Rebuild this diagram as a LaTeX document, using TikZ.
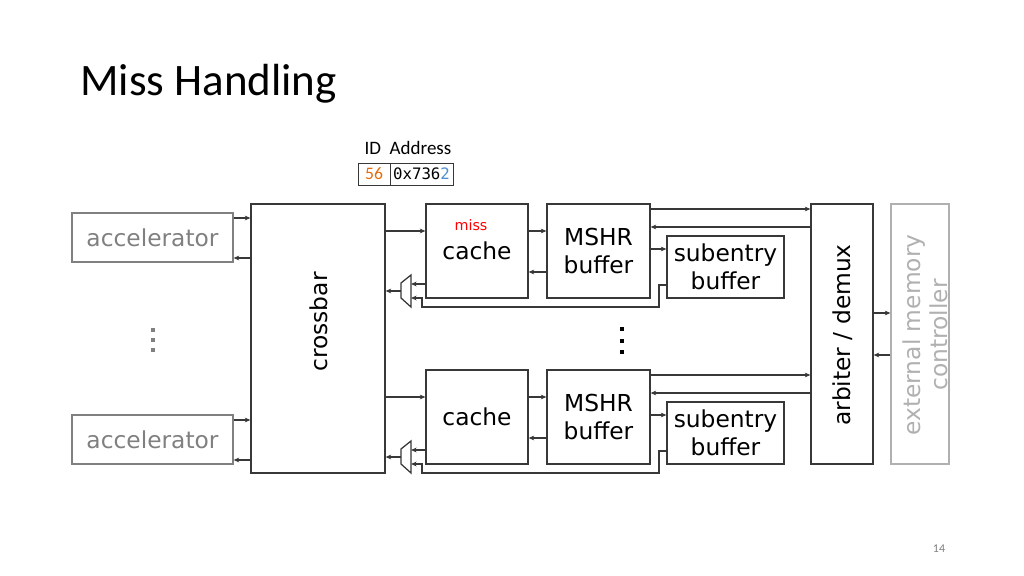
\documentclass[tikz,border=0pt]{standalone}
\usepackage{fontspec}
\setmainfont{DejaVu Sans}
\newfontfamily\titlefont{Carlito}
\newfontfamily\codefont{DejaVu Sans Mono}
\usetikzlibrary{arrows.meta}
\definecolor{linegray}{HTML}{383838}
\definecolor{accgray}{HTML}{808080}
\definecolor{emcgray}{HTML}{B0B0B0}
\definecolor{idorange}{HTML}{E36C0A}
\definecolor{idblue}{HTML}{4F8FD0}
\begin{document}
\begin{tikzpicture}[x=0.025cm,y=-0.025cm,
    box/.style={draw=linegray, line width=0.9pt, inner sep=0pt},
    lbl/.style={font=\fontsize{16.6}{19.5}\selectfont, align=center},
    arr/.style={draw=linegray, line width=0.75pt, -{Stealth[length=4pt,width=3.4pt]}}]
    \useasboundingbox (0,0) rectangle (1024,576);

    % Title and page number
    \node[anchor=base west, inner sep=0pt, font=\titlefont\fontsize{32}{38}\selectfont] (title) at (80,96) {Miss Handling};
    \node[font=\titlefont\fontsize{8.5}{10}\selectfont, text=accgray] (page) at (939,549) {14};

    % Request fields
    \node[font=\titlefont\fontsize{13.5}{16}\selectfont] (idhead) at (408,148) {ID\ \ Address};
    \node[draw=linegray, line width=0.7pt, minimum width=0.8cm, minimum height=0.55cm, inner sep=0pt,
        font=\titlefont\fontsize{12.5}{14}\selectfont, text=idorange] (idcell) at (374,174) {56};
    \node[draw=linegray, line width=0.7pt, minimum width=1.575cm, minimum height=0.55cm, inner sep=0pt,
        font=\codefont\fontsize{11.2}{14}\selectfont] (addrcell) at (421.5,174) {0x736\textcolor{idblue}{2}};

    % Accelerators and crossbar
    \node[box, minimum width=3.35cm, minimum height=6.725cm] (xbar) at (318,338.5) {};
    \node[lbl, rotate=90] (xbartext) at (319,322) {crossbar};
    \foreach \a/\dy in {1/0,2/202} {
        \node[box, draw=accgray, text=accgray, lbl, minimum width=4.025cm, minimum height=1.225cm] (acc\a) at (152.5,237.5+\dy) {accelerator};
        \draw[arr] (acc\a.east |- 0,218+\dy) -- (xbar.west |- 0,218+\dy);
        \draw[arr] (xbar.west |- 0,258+\dy) -- (acc\a.east |- 0,258+\dy);
    }
    \foreach \y in {330,340,350}
        \fill[accgray] (151,\y-2) rectangle (155,\y+2);

    % Arbiter and memory controller
    \node[box, minimum width=1.55cm, minimum height=6.5cm] (arb) at (842,334) {};
    \node[lbl, rotate=90] (arbtext) at (843,335) {arbiter / demux};
    \node[box, draw=emcgray, minimum width=1.45cm, minimum height=6.5cm] (emc) at (920,334) {};
    \node[lbl, rotate=90, text=emcgray] (emctext) at (925,335) {external memory\\controller};
    \draw[arr] (arb.east |- 0,313) -- (emc.west |- 0,313);
    \draw[arr] (emc.west |- 0,355) -- (arb.east |- 0,355);

    % Cache rows
    \foreach \r/\dy in {1/0,2/166} {
        \node[box, lbl, minimum width=2.55cm, minimum height=2.35cm] (cache\r) at (477,251+\dy) {cache};
        \node[box, lbl, minimum width=2.575cm, minimum height=2.35cm] (mshr\r) at (598.5,251+\dy) {MSHR\\buffer};
        \node[box, lbl, minimum width=2.925cm, minimum height=1.55cm] (sub\r) at (725.5,267+\dy) {subentry\\buffer};

        % mux in front of the crossbar
        \draw[box] (411,275+\dy) coordinate (muxin\r) -- (411,307+\dy) -- (401,298+\dy) -- (401,283+\dy) -- cycle;
        \coordinate (mux\r) at (401,291+\dy);

        \draw[arr] (xbar.east |- 0,231+\dy) -- (cache\r.west |- 0,231+\dy);
        \draw[arr] (mux\r) -- (xbar.east |- mux\r);
        \draw[arr] (cache\r.west |- 0,284+\dy) -- (muxin\r |- 0,284+\dy);
        \draw[arr] (cache\r.east |- 0,231+\dy) -- (mshr\r.west |- 0,231+\dy);
        \draw[arr] (mshr\r.west |- 0,272+\dy) -- (cache\r.east |- 0,272+\dy);
        \draw[arr] (mshr\r.east |- 0,209+\dy) -- (arb.west |- 0,209+\dy);
        \draw[arr] (arb.west |- 0,227+\dy) -- (mshr\r.east |- 0,227+\dy);
        \draw[arr] (mshr\r.east |- 0,249+\dy) -- (sub\r.west |- 0,249+\dy);
        \draw[arr] (sub\r.west |- 0,285+\dy) -- (659,285+\dy) -- (659,307+\dy)
            -- (422,307+\dy) -- (422,298+\dy) -- (muxin\r |- 0,298+\dy);
    }
    \node[font=\fontsize{10.2}{12}\selectfont, text=red] (miss) at (471,225) {miss};
    \foreach \y in {329,341,352}
        \fill[black] (620,\y-2.2) rectangle (624.4,\y+2.2);
\end{tikzpicture}
\end{document}
